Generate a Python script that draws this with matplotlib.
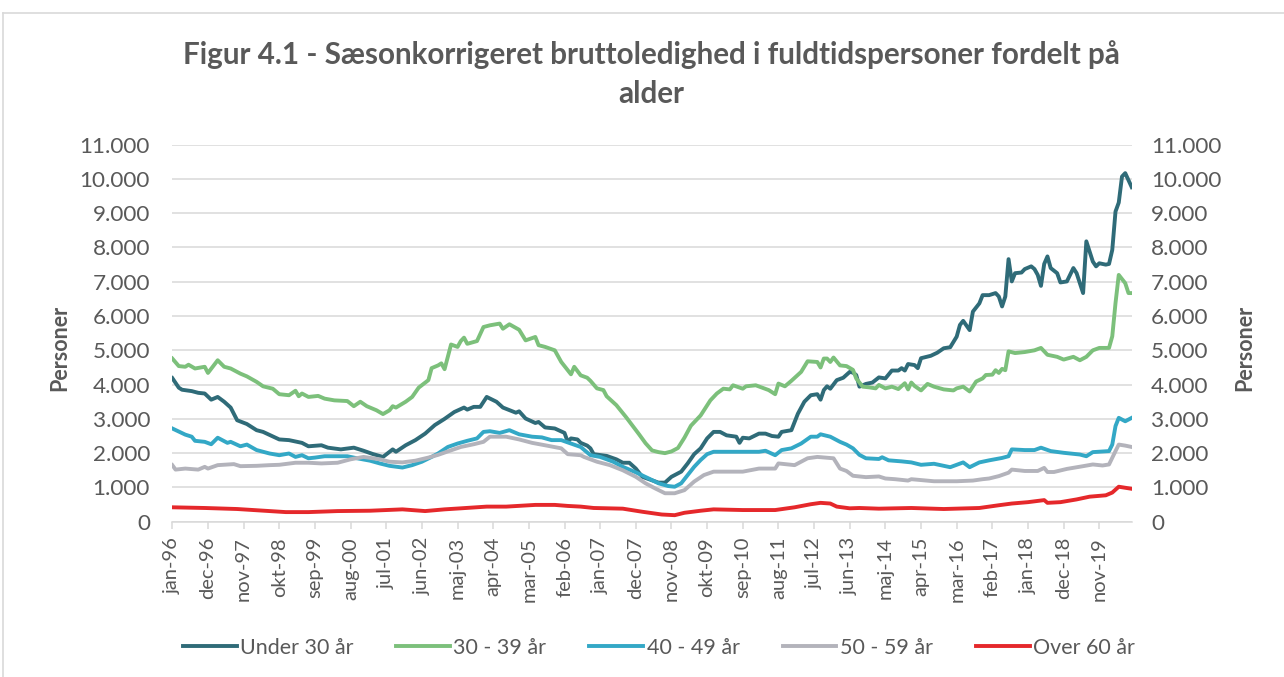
import matplotlib.pyplot as plt
from matplotlib.lines import Line2D

# month index 0 = jan-96
u30_month = [0, 2, 3, 6, 8, 10, 12, 14, 16, 18, 20, 23, 26, 28, 33, 36, 40, 42,
             46, 48, 52, 56, 59, 62, 65, 68, 69, 72, 75, 78, 81, 84,
             87, 90, 91, 93, 95, 97, 100, 102, 106, 107, 109, 112, 113, 115, 118, 121, 122, 123,
             125, 126, 128, 129, 130, 134, 137, 139, 141, 143, 145, 148, 150, 152, 154, 157, 159,
             161, 163, 165, 167, 169, 171, 174, 175, 176, 178, 181, 183, 185, 187, 188, 191, 193,
             195, 197, 199, 200, 201, 202, 203, 205, 207, 209, 210, 211, 212, 214, 216, 218, 220,
             222, 224, 225, 226, 227, 229, 230, 231, 234, 236, 238, 240, 242, 243, 244, 246, 247,
             249, 250, 252, 254, 255, 256, 257, 258, 259, 260, 262, 263, 265, 266, 267, 268, 269,
             270, 271, 273, 274, 276, 278, 279, 281, 282, 284, 285, 286, 288, 289, 290, 291, 292,
             293, 294, 296]
u30_value = [4190, 3910, 3850, 3810, 3760, 3740, 3560, 3640, 3500, 3330, 2960, 2850, 2670, 2620, 2400, 2380, 2300, 2200,
             2230, 2160, 2110, 2160, 2070, 1970, 1890, 2110, 2040, 2230, 2380, 2570, 2820, 3000,
             3200, 3330, 3270, 3350, 3350, 3640, 3500, 3330, 3180, 3220, 3010, 2880, 2910, 2750, 2720, 2590, 2330, 2430,
             2400, 2300, 2220, 2140, 1970, 1920, 1820, 1720, 1720, 1550, 1310, 1210, 1140, 1140, 1310, 1460, 1700,
             1970, 2140, 2430, 2620, 2620, 2520, 2480, 2300, 2450, 2430, 2570, 2570, 2500, 2480, 2620, 2670, 3150,
             3500, 3690, 3720, 3560, 3840, 3950, 3880, 4130, 4200, 4370, 4350, 4280, 3940, 4020, 4060, 4210, 4180,
             4410, 4410, 4480, 4410, 4600, 4570, 4480, 4770, 4840, 4930, 5060, 5090, 5400, 5740, 5860, 5590, 6130,
             6370, 6610, 6610, 6670, 6570, 6280, 6570, 7660, 7010, 7250, 7270, 7370, 7450, 7370, 7200, 6880, 7520,
             7740, 7400, 7250, 6980, 7010, 7400, 7250, 6670, 8180, 7590, 7450, 7540, 7500, 7520, 7930, 9050, 9310,
             10070, 10170, 9760]

a30_month = [0, 2, 4, 5, 7, 10, 11, 14, 16, 18, 21, 23, 26, 28, 31, 33, 36, 38, 39, 40, 42,
             45, 47, 50, 54, 56, 58, 60, 63, 65, 67, 68, 69, 72, 74, 76, 79, 80, 82, 83, 84,
             86, 88, 89, 90, 91, 94, 96, 98, 101, 102, 104, 107, 109, 112, 113, 115, 118, 120, 123,
             124, 126, 128, 129, 131, 133, 134, 137, 140, 142, 144, 146, 148, 150, 152, 154, 156,
             158, 160, 163, 166, 168, 170, 172, 173, 176, 177, 180, 182, 184, 186, 187, 189, 191,
             194, 196, 199, 200, 201, 202, 203, 204, 206, 208, 210, 211, 213, 215, 217, 218, 220,
             222, 224, 226, 227, 228, 229, 231, 233, 235, 238, 241, 242, 244, 246, 248, 250, 251,
             253, 254, 255, 256, 257, 258, 260, 263, 266, 268, 270, 273, 275, 278, 280, 282, 284,
             286, 289, 290, 291, 292, 294, 295, 296]
a30_value = [4760, 4540, 4520, 4580, 4470, 4520, 4340, 4710, 4520, 4470, 4320, 4240, 4080, 3950, 3880, 3720, 3690, 3820, 3660, 3740, 3640,
             3670, 3590, 3540, 3520, 3370, 3500, 3370, 3250, 3140, 3250, 3370, 3330, 3500, 3640, 3910, 4130, 4480, 4560, 4620, 4450,
             5170, 5100, 5270, 5370, 5190, 5270, 5680, 5730, 5780, 5630, 5760, 5600, 5290, 5390, 5150, 5100, 5000, 4660, 4300,
             4520, 4270, 4200, 4110, 3890, 3840, 3660, 3400, 3050, 2800, 2550, 2290, 2080, 2030, 2000, 2050, 2150,
             2450, 2800, 3100, 3540, 3740, 3880, 3860, 3980, 3880, 3950, 3980, 3910, 3840, 3720, 4030, 3950, 4110,
             4370, 4680, 4660, 4500, 4760, 4760, 4660, 4790, 4560, 4540, 4430, 4180, 3940, 3920, 3890, 3990, 3890,
             3940, 3870, 4040, 3860, 4060, 3960, 3830, 4020, 3940, 3860, 3830, 3890, 3940, 3800, 4090, 4180, 4280,
             4290, 4420, 4340, 4460, 4420, 4970, 4920, 4950, 5000, 5070, 4870, 4810, 4730, 4810, 4710, 4810, 5000,
             5070, 5070, 5410, 6380, 7200, 6960, 6670, 6670]

a40_month = [0, 4, 6, 7, 10, 12, 14, 17, 18, 21, 23, 26, 30, 33, 36, 38, 40, 42,
             44, 47, 50, 54, 57, 61, 64, 67, 71, 74, 77, 80, 82,
             85, 88, 91, 94, 96, 98, 101, 104, 107, 111, 114, 117, 120, 123, 126,
             129, 132, 136, 139, 143, 147, 150, 153, 155, 157, 159, 161, 163, 165, 167,
             169, 174, 181, 183, 186, 188, 191, 194, 197, 199, 200, 203, 206,
             208, 210, 212, 214, 218, 219, 221, 225, 228, 231, 235, 240, 244, 246, 249, 252,
             256, 258, 259, 263, 266, 268, 271, 275, 280, 282, 284, 289, 290, 291, 292, 294, 296]
a40_value = [2720, 2540, 2480, 2360, 2330, 2260, 2450, 2300, 2330, 2200, 2250, 2090, 1990, 1940, 1990, 1890, 1940, 1850,
             1870, 1910, 1910, 1910, 1850, 1780, 1700, 1630, 1580, 1650, 1750, 1890, 1990,
             2180, 2280, 2360, 2430, 2620, 2640, 2590, 2670, 2550, 2480, 2460, 2380, 2380, 2280, 2180,
             1940, 1890, 1750, 1600, 1440, 1260, 1120, 1040, 1020, 1120, 1360, 1600, 1800, 1970, 2040,
             2040, 2040, 2040, 2070, 1940, 2090, 2140, 2280, 2480, 2480, 2550, 2480, 2330,
             2250, 2140, 1950, 1850, 1830, 1880, 1790, 1760, 1730, 1660, 1690, 1590, 1730, 1590, 1730, 1790,
             1860, 1910, 2110, 2090, 2090, 2160, 2060, 2010, 1960, 1910, 2030, 2060, 2250, 2790, 3030, 2930, 3030]

a50_month = [0, 1, 4, 8, 10, 11, 14, 19, 21, 26, 30, 33, 38, 42,
             46, 51, 55, 59, 64, 67, 71, 75, 79, 82,
             85, 89, 93, 96, 98, 103, 107, 111, 115, 120, 122, 126,
             127, 131, 135, 139, 143, 146, 149, 152, 155, 158, 161, 164, 167,
             171, 176, 181, 186, 187, 192, 196, 199, 204, 206,
             208, 210, 214, 218, 220, 223, 227, 228, 235, 242, 247, 250, 252,
             255, 258, 259, 263, 267, 269, 270, 272, 276, 281, 284, 287, 289, 291, 292, 294, 296]
a50_value = [1650, 1520, 1550, 1520, 1600, 1550, 1650, 1680, 1620, 1630, 1650, 1660, 1720, 1720,
             1700, 1720, 1820, 1890, 1820, 1750, 1730, 1780, 1870, 1950,
             2050, 2180, 2260, 2330, 2480, 2480, 2400, 2300, 2230, 2140, 1970, 1940,
             1890, 1750, 1650, 1500, 1310, 1120, 970, 830, 830, 920, 1170, 1360, 1460,
             1460, 1460, 1550, 1550, 1700, 1650, 1850, 1890, 1850, 1550,
             1480, 1340, 1300, 1320, 1260, 1240, 1200, 1240, 1180, 1180, 1200, 1240, 1260,
             1330, 1430, 1520, 1480, 1480, 1570, 1450, 1450, 1540, 1620, 1670, 1640, 1670, 2060, 2250, 2220, 2180]

o60_month = [0, 10, 20, 30, 35, 42, 51, 61, 71, 78, 84, 89, 97, 103, 112, 118, 122, 126,
             130, 139, 145, 151, 155, 158, 163, 167, 176, 186, 192, 197, 200, 203, 205, 209,
             212, 218, 228, 238, 249, 255, 259, 264, 269, 270, 274, 279, 283, 288, 290, 292, 294, 296]
o60_value = [420, 400, 370, 310, 280, 280, 310, 320, 360, 310, 360, 390, 440, 440, 490, 490, 460, 440,
             400, 380, 290, 210, 190, 260, 320, 360, 340, 340, 420, 510, 550, 530, 440, 390,
             400, 380, 400, 370, 400, 480, 530, 570, 630, 550, 570, 650, 730, 770, 850, 1020, 990, 960]

series_names = ['Under 30 år', '30 - 39 år', '40 - 49 år', '50 - 59 år', 'Over 60 år']
series_colors = ['#2F6B78', '#7CC07B', '#33A8C6', '#B3B3BB', '#E5282B']

tick_pos = list(range(0, 287, 11))
tick_labels = ['jan-96', 'dec-96', 'nov-97', 'okt-98', 'sep-99', 'aug-00', 'jul-01', 'jun-02',
               'maj-03', 'apr-04', 'mar-05', 'feb-06', 'jan-07', 'dec-07', 'nov-08', 'okt-09',
               'sep-10', 'aug-11', 'jul-12', 'jun-13', 'maj-14', 'apr-15', 'mar-16', 'feb-17',
               'jan-18', 'dec-18', 'nov-19']
y_ticks = list(range(0, 11001, 1000))
y_labels = ['0', '1.000', '2.000', '3.000', '4.000', '5.000', '6.000', '7.000', '8.000',
            '9.000', '10.000', '11.000']

plt.rcParams['font.family'] = ['Lato', 'DejaVu Sans']
txt = '#595959'

fig = plt.figure(figsize=(12.84, 6.77), dpi=100)
ax = fig.add_axes([0.1342, 0.2294, 0.7472, 0.5569])

data = [(u30_month, u30_value), (a30_month, a30_value), (a40_month, a40_value),
        (a50_month, a50_value), (o60_month, o60_value)]
for (m, v), name, col in zip(data, series_names, series_colors):
    ax.plot(m, v, color=col, lw=2.8, label=name, solid_joinstyle='round')

ax.set_xlim(0, 296)
ax.set_ylim(0, 11000)
ax.set_yticks(y_ticks)
ax.set_yticklabels(y_labels)
ax.set_xticks(tick_pos)
ax.set_xticklabels(tick_labels, rotation=90)
ax.grid(axis='y', color='#D9D9D9', lw=1.1)
ax.set_axisbelow(True)
for s in ['top', 'left', 'right']:
    ax.spines[s].set_visible(False)
ax.spines['bottom'].set_color('#D9D9D9')
ax.spines['bottom'].set_linewidth(1.1)
ax.tick_params(axis='y', length=0, pad=16, labelsize=16.2, labelcolor=txt)
ax.tick_params(axis='x', length=5, width=1.1, color='#D9D9D9', pad=6, labelsize=14.5, labelcolor=txt)

ax2 = ax.twinx()
ax2.set_ylim(0, 11000)
ax2.set_yticks(y_ticks)
ax2.set_yticklabels(y_labels)
for s in ['top', 'left', 'right', 'bottom']:
    ax2.spines[s].set_visible(False)
ax2.tick_params(axis='y', length=0, pad=14, labelsize=16.2, labelcolor=txt)

fig.text(0.5075, 1 - 74 / 677, 'Figur 4.1 - Sæsonkorrigeret bruttoledighed i fuldtidspersoner fordelt på\nalder',
         ha='center', va='center', fontsize=21.3, fontweight='bold', color=txt, linespacing=1.45)
fig.text(60 / 1284, 1 - 348 / 677, 'Personer', rotation=90, ha='center', va='center',
         fontsize=15.5, fontweight='bold', color=txt)
fig.text(1245 / 1284, 1 - 348 / 677, 'Personer', rotation=90, ha='center', va='center',
         fontsize=15.5, fontweight='bold', color=txt)

leg = fig.legend(loc='center', bbox_to_anchor=(0.513, 0.0428), ncol=5, frameon=False,
                 fontsize=15.5, handlelength=2.5, columnspacing=2.0, handletextpad=0.15)
for t in leg.get_texts():
    t.set_color(txt)

# chart border (top and left edges are visible in the crop)
fig.add_artist(Line2D([3 / 1284, 3 / 1284], [0, 1 - 13 / 677], color='#D9D9D9', lw=1.2))
fig.add_artist(Line2D([3 / 1284, 1], [1 - 13 / 677, 1 - 13 / 677], color='#D9D9D9', lw=1.2))

fig.savefig('out.png', dpi=100)
